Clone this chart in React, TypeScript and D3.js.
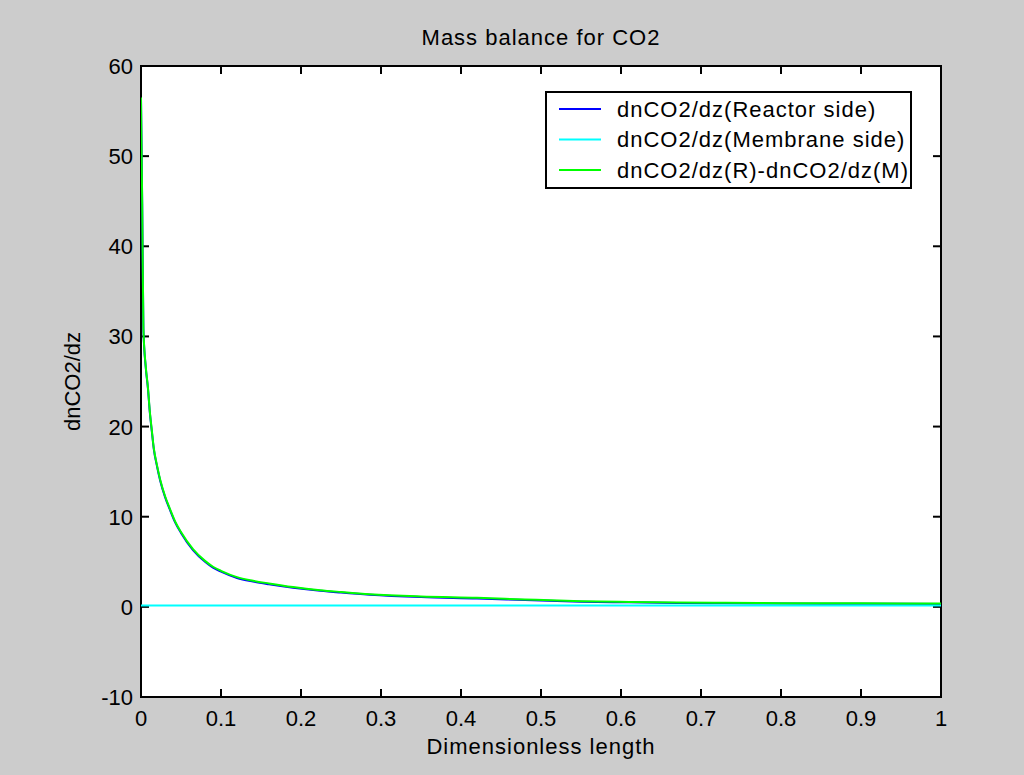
import React from "react";
import * as d3 from "d3";

const xTicks = [0, 0.1, 0.2, 0.3, 0.4, 0.5, 0.6, 0.7, 0.8, 0.9, 1];
const yTicks = [-10, 0, 10, 20, 30, 40, 50, 60];

const zPoints = [0, 0.0015, 0.003, 0.006, 0.0087, 0.011, 0.0135, 0.016, 0.02, 0.024, 0.03, 0.036, 0.0425, 0.05, 0.065, 0.08, 0.09, 0.1, 0.12, 0.14, 0.16, 0.19, 0.224, 0.25, 0.286, 0.35, 0.42, 0.48, 0.55, 0.61, 0.67, 0.73, 0.8, 0.9, 1.0];
const reactorSide = [56.4, 44.7, 30.8, 26.5, 24.2, 21.6, 19.5, 17.5, 15.6, 14.0, 12.2, 10.8, 9.4, 8.2, 6.3, 5.0, 4.35, 3.9, 3.2, 2.8, 2.5, 2.12, 1.78, 1.58, 1.34, 1.08, 0.93, 0.76, 0.57, 0.5, 0.43, 0.4, 0.37, 0.35, 0.33];
const membraneX = [0, 0.25, 0.5, 0.75, 1];
const membraneSide = [0.15, 0.15, 0.15, 0.15, 0.15];
const difference = [56.5, 44.8, 30.9, 26.6, 24.3, 21.7, 19.6, 17.6, 15.7, 14.1, 12.3, 10.9, 9.5, 8.3, 6.4, 5.1, 4.45, 4.0, 3.3, 2.9, 2.6, 2.2, 1.85, 1.65, 1.4, 1.15, 1.0, 0.82, 0.63, 0.55, 0.49, 0.45, 0.41, 0.39, 0.37];

const legendLabels = ["dnCO2/dz(Reactor side)", "dnCO2/dz(Membrane side)", "dnCO2/dz(R)-dnCO2/dz(M)"];
const colors = ["#0000ff", "#00ffff", "#00ff00"];

const W = 1024, H = 775;
const L = 141, R = 941, T = 66, B = 697;
const FONT = "'Liberation Sans', Arial, sans-serif";
const FS = 22;

export default function App() {
  const x = d3.scaleLinear().domain([0, 1]).range([L, R]);
  const y = d3.scaleLinear().domain([-10, 60]).range([B, T]);
  const line = d3.line<[number, number]>().x(d => x(d[0])).y(d => y(d[1])).curve(d3.curveMonotoneX);
  const series: [number, number][][] = [
    zPoints.map((z, i) => [z, reactorSide[i]]),
    membraneX.map((z, i) => [z, membraneSide[i]]),
    zPoints.map((z, i) => [z, difference[i]]),
  ];
  const tl = 8;
  return (
    <svg width={W} height={H} style={{ position: "absolute", left: 0, top: 0, display: "block" }} fontFamily={FONT}>
      <rect x={0} y={0} width={W} height={H} fill="#cccccc" />
      <rect x={L} y={T} width={R - L} height={B - T} fill="#ffffff" />
      <defs>
        <clipPath id="plotclip">
          <rect x={L} y={T} width={R - L} height={B - T} />
        </clipPath>
      </defs>
      {xTicks.map((t, i) => (
        <g key={"xt" + i}>
          <line x1={x(t)} x2={x(t)} y1={B} y2={B - tl} stroke="#000" strokeWidth={2} />
          <line x1={x(t)} x2={x(t)} y1={T} y2={T + tl} stroke="#000" strokeWidth={2} />
          <text x={x(t)} y={726} fontSize={FS} textAnchor="middle" fill="#000">{String(t)}</text>
        </g>
      ))}
      {yTicks.map((t, i) => (
        <g key={"yt" + i}>
          <line x1={L} x2={L + tl} y1={y(t)} y2={y(t)} stroke="#000" strokeWidth={2} />
          <line x1={R} x2={R - tl} y1={y(t)} y2={y(t)} stroke="#000" strokeWidth={2} />
          <text x={L - 8} y={y(t) + 8} fontSize={FS} textAnchor="end" fill="#000">{String(t)}</text>
        </g>
      ))}
      <rect x={L} y={T} width={R - L} height={B - T} fill="none" stroke="#000" strokeWidth={2} />
      <g clipPath="url(#plotclip)">
        {series.map((s, i) => (
          <path key={"s" + i} d={line(s) || ""} fill="none" stroke={colors[i]} strokeWidth={2} />
        ))}
      </g>
      <rect x={546} y={92} width={365} height={96} fill="#ffffff" stroke="#000" strokeWidth={2} />
      {legendLabels.map((lab, i) => {
        const ry = 109 + i * 30.5;
        return (
          <g key={"lg" + i}>
            <line x1={559} x2={601} y1={ry} y2={ry} stroke={colors[i]} strokeWidth={2} />
            <text x={617} y={ry + 7.5} fontSize={FS} letterSpacing={1} fill="#000">{lab}</text>
          </g>
        );
      })}
      <text x={(L + R) / 2} y={45} fontSize={FS} letterSpacing={1} textAnchor="middle" fill="#000">Mass balance for CO2</text>
      <text x={(L + R) / 2} y={754} fontSize={FS} letterSpacing={1} textAnchor="middle" fill="#000">Dimensionless length</text>
      <text transform={`translate(80,${(T + B) / 2}) rotate(-90)`} fontSize={FS} textAnchor="middle" fill="#000">dnCO2/dz</text>
    </svg>
  );
}
